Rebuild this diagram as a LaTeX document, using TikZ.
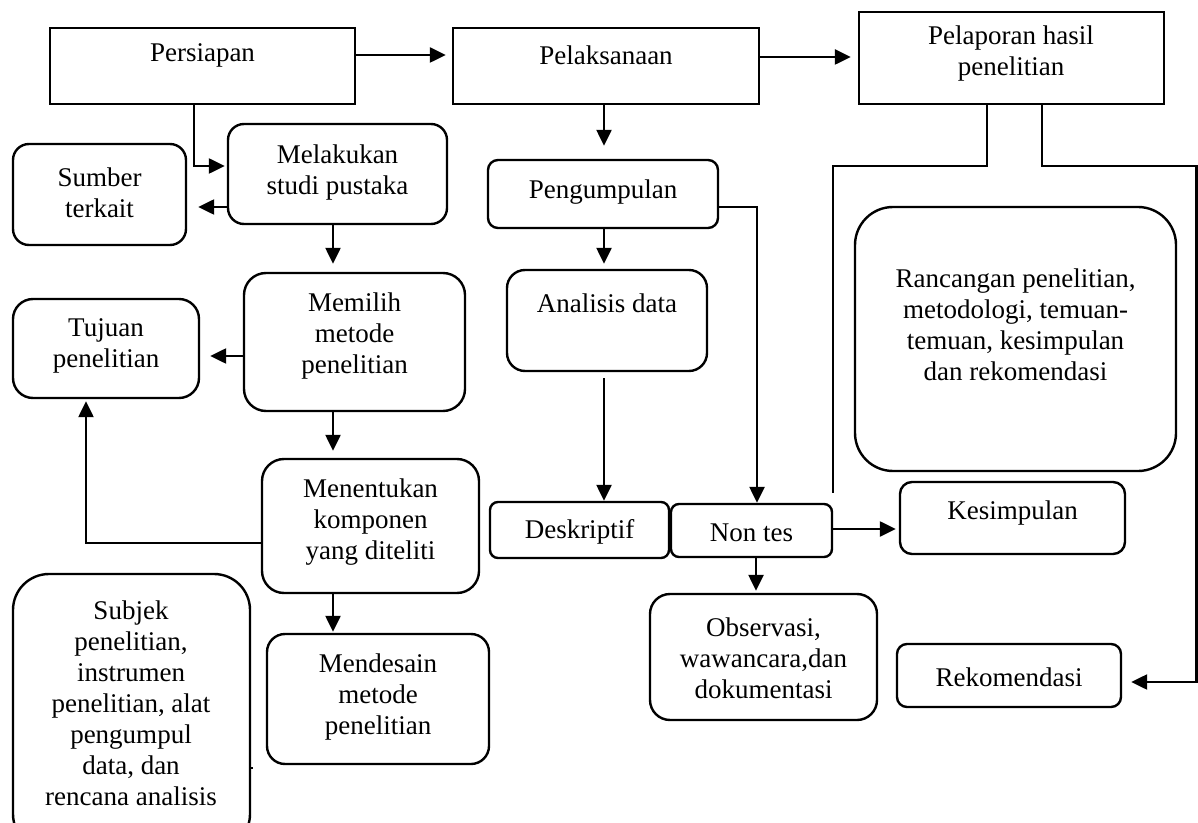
\documentclass[tikz,border=0pt]{standalone}
\usepackage{fontspec}
\setmainfont{Liberation Serif}
\usetikzlibrary{arrows.meta,fit}
\newcommand{\fs}{\fontsize{13.5pt}{15.5pt}\selectfont}
\begin{document}
\begin{tikzpicture}[x=0.5pt,y=-0.5pt,
  sq/.style={draw, line width=1.2pt, inner sep=0pt},
  rb/.style={sq, rounded corners=#1},
  txt/.style={font=\fs, align=center, inner sep=0pt},
  ln/.style={line width=1.2pt},
  arr/.style={line width=1.2pt, -{Triangle[length=8pt,width=7.5pt]}}]
\useasboundingbox (0,0) rectangle (1198,823);
\clip (0,0) rectangle (1198,823);
% boxes
\node[sq, fit={(50,28) (355,104)}] (pers) {};
\node[sq, fit={(453,28) (759,104)}] (pel) {};
\node[sq, fit={(859,12) (1164,104)}] (lap) {};
\node[rb=8pt, fit={(228,124) (447,224)}] (mel) {};
\node[rb=8pt, fit={(13,144) (186,245)}] (sum) {};
\node[rb=11pt, fit={(244,273) (465,411)}] (mem) {};
\node[rb=10pt, fit={(13,299) (199,398)}] (tuj) {};
\node[rb=11pt, fit={(262,459) (479,593)}] (men) {};
\node[rb=9pt, fit={(267,634) (489,764)}] (des) {};
\node[rb=18pt, fit={(13,574) (250,850)}] (sub) {};
\node[rb=5pt, fit={(488,160) (718,228)}] (peng) {};
\node[rb=9pt, fit={(507,270) (707,371)}] (ana) {};
\node[rb=19pt, fit={(855,207) (1176,471)}] (ran) {};
\node[rb=4pt, fit={(490,502) (669,558)}] (desk) {};
\node[rb=4pt, fit={(671,504) (832,557)}] (non) {};
\node[rb=6pt, fit={(900,482) (1125,554)}] (kes) {};
\node[rb=10pt, fit={(650,594) (877,720)}] (obs) {};
\node[rb=5pt, fit={(897,644) (1121,707)}] (rek) {};
% texts
\node[txt] (pers-t) at (202.5,55) {Persiapan};
\node[txt] (pel-t) at (606,55) {Pelaksanaan};
\node[txt] (lap-t) at (1011,54) {Pelaporan hasil\\penelitian};
\node[txt] (mel-t) at (337.5,172.5) {Melakukan\\studi pustaka};
\node[txt] (sum-t) at (99.5,192.5) {Sumber\\terkait};
\node[txt] (mem-t) at (354.5,336) {Memilih\\metode\\penelitian};
\node[txt] (tuj-t) at (106,346) {Tujuan\\penelitian};
\node[txt] (men-t) at (370.5,522.5) {Menentukan\\komponen\\yang diteliti};
\node[txt] (des-t) at (378,697.5) {Mendesain\\metode\\penelitian};
\node[txt] (sub-t) at (131,703.5) {Subjek\\penelitian,\\instrumen\\penelitian, alat\\pengumpul\\data, dan\\rencana analisis};
\node[txt] (peng-t) at (603,192) {Pengumpulan};
\node[txt] (ana-t) at (607,303) {Analisis data};
\node[txt] (ran-t) at (1015.5,325) {Rancangan penelitian,\\metodologi, temuan-\\temuan, kesimpulan\\dan rekomendasi};
\node[txt] (desk-t) at (579.5,532) {Deskriptif};
\node[txt] (non-t) at (751.5,533) {Non tes};
\node[txt] (kes-t) at (1012.5,513) {Kesimpulan};
\node[txt] (obs-t) at (763.5,658) {Observasi,\\wawancara,dan\\dokumentasi};
\node[txt] (rek-t) at (1009,677) {Rekomendasi};
% connectors
\draw[arr, shorten >=3pt] (pers.east |- 0,55) -- (pel.west |- 0,55);
\draw[arr, shorten >=3.5pt] (pel.east |- 0,57) -- (lap.west |- 0,57);
\draw[arr, shorten >=1pt] (pers.south -| 194,0) |- (mel.west |- 0,166);
\draw[arr, shorten >=5.5pt] (mel.west |- 0,207) -- (sum.east |- 0,207);
\draw[arr, shorten >=4pt] (mel.south -| 333,0) -- (mem.north -| 333,0);
\draw[arr, shorten >=5pt] (mem.west |- 0,356) -- (tuj.east |- 0,356);
\draw[arr, shorten >=3.5pt] (mem.south -| 333,0) -- (men.north -| 333,0);
\draw[arr, shorten >=1pt] (men.west |- 0,543) -| (tuj.south -| 86,0);
\draw[arr, shorten >=0.5pt] (men.south -| 333,0) -- (des.north -| 333,0);
\draw[arr, shorten >=6.5pt] (pel.south -| 604,0) -- (peng.north -| 604,0);
\draw[arr, shorten >=2.5pt] (peng.south -| 604,0) -- (ana.north -| 604,0);
\draw[arr, shorten <=3pt] (ana.south -| 604,0) -- (desk.north -| 604,0);
\draw[arr] (peng.east |- 0,207) -| (non.north -| 757,0);
\draw[arr, shorten >=1.5pt] (non.east |- 0,529) -- (kes.west |- 0,529);
\draw[arr, shorten >=1pt] (non.south -| 756,0) -- (obs.north -| 756,0);
\coordinate (lapend) at (833,493);
\draw[ln] (lap.south -| 987,0) |- (833,166) -- (lapend);
\draw[arr, shorten >=4.5pt] (lap.south -| 1042,0) |- (1196.5,166) |- (rek.east |- 0,682);
\coordinate (tick) at (253,768);
\draw[ln] (sub.east |- 0,768) -- (tick);
\end{tikzpicture}
\end{document}
